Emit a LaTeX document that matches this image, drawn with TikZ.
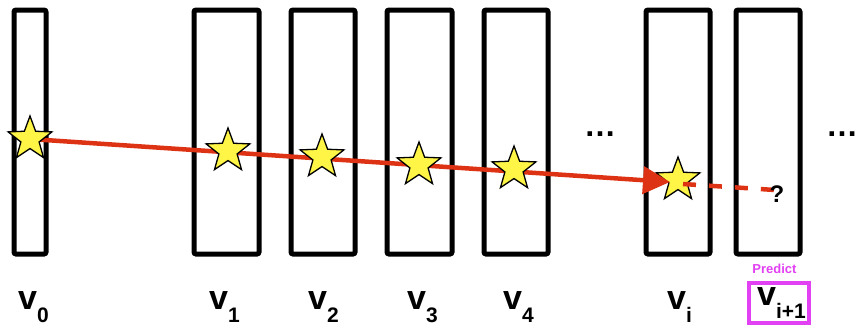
\documentclass[tikz,border=0pt]{standalone}
\usepackage{fontspec}
\setmainfont{Liberation Sans}
\usetikzlibrary{shapes.geometric,arrows.meta}
\definecolor{arrowred}{RGB}{222,50,20}
\definecolor{staryellow}{RGB}{255,245,70}
\definecolor{predmag}{RGB}{226,64,243}
\newcommand{\vlab}[1]{{\fontsize{34}{34}\selectfont\bfseries v}\raisebox{-13pt}{\fontsize{21}{21}\selectfont\bfseries #1}}
\tikzset{
  vbox/.style={draw=black, line width=5pt, rounded corners=2pt, inner sep=0pt, minimum height=244pt},
  vstar/.style={star, star points=5, star point ratio=2.4, minimum size=46pt, inner sep=0pt, fill=staryellow, draw=black, line width=1.3pt},
  vlabel/.style={anchor=base west, inner sep=0pt},
  redline/.style={draw=arrowred, line width=4.5pt},
  dots/.style={anchor=base, inner sep=0pt, font=\fontsize{32}{32}\selectfont\bfseries},
}
\begin{document}
\begin{tikzpicture}[x=1pt, y=-1pt]
\useasboundingbox (0,0) rectangle (858,327);
% boxes
\node[vbox, minimum width=32pt] (b0) at (30,132) {};
\node[vbox, minimum width=65pt] (b1) at (226.5,132) {};
\node[vbox, minimum width=64pt] (b2) at (323,132) {};
\node[vbox, minimum width=65pt] (b3) at (419.5,132) {};
\node[vbox, minimum width=64pt] (b4) at (516,132) {};
\node[vbox, minimum width=64pt] (b5) at (678,132) {};
\node[vbox, minimum width=64pt] (b6) at (768,132) {};
% star coordinates
\coordinate (c0) at (30,139);
\coordinate (c1) at (228,151);
\coordinate (c2) at (322,157);
\coordinate (c3) at (419,165);
\coordinate (c4) at (514,169);
\coordinate (c5) at (678,180);
\coordinate (tip) at (670,182);
\coordinate (dstart) at (683,184);
\coordinate (dend) at (775,190);
% star i below arrow
\node[vstar] (s5) at (c5) {};
% main arrow
\draw[redline, -{Triangle[length=27pt,width=27pt]}] (c0) -- (tip);
% other stars
\node[vstar] (s0) at (c0) {};
\node[vstar] (s1) at (c1) {};
\node[vstar] (s2) at (c2) {};
\node[vstar] (s3) at (c3) {};
\node[vstar] (s4) at (c4) {};
% dashed prediction
\draw[redline, dash pattern=on 13pt off 13pt] (dstart) -- (dend);
\node[anchor=base, inner sep=0pt, font=\fontsize{24}{24}\selectfont\bfseries] (q) at (777,202) {?};
% ellipses
\node[dots] (d1) at (600,136) {…};
\node[dots] (d2) at (842,136) {…};
% labels
\node[vlabel] (l0) at (18,309) {\vlab{0}};
\node[vlabel] (l1) at (209,309) {\vlab{1}};
\node[vlabel] (l2) at (308,309) {\vlab{2}};
\node[vlabel] (l3) at (407,309) {\vlab{3}};
\node[vlabel] (l4) at (503,309) {\vlab{4}};
\node[vlabel] (l5) at (667,309) {\vlab{i}};
\node[vlabel] (l6) at (757,305) {\vlab{i+1}};
% predict box
\node[draw=predmag, line width=4pt, minimum width=60pt, minimum height=40pt, inner sep=0pt] (pbox) at (779,303) {};
\node[anchor=base, inner sep=0pt, text=predmag, font=\fontsize{13}{13}\selectfont\bfseries] (pred) at (774.5,273) {Predict};
\end{tikzpicture}
\end{document}
